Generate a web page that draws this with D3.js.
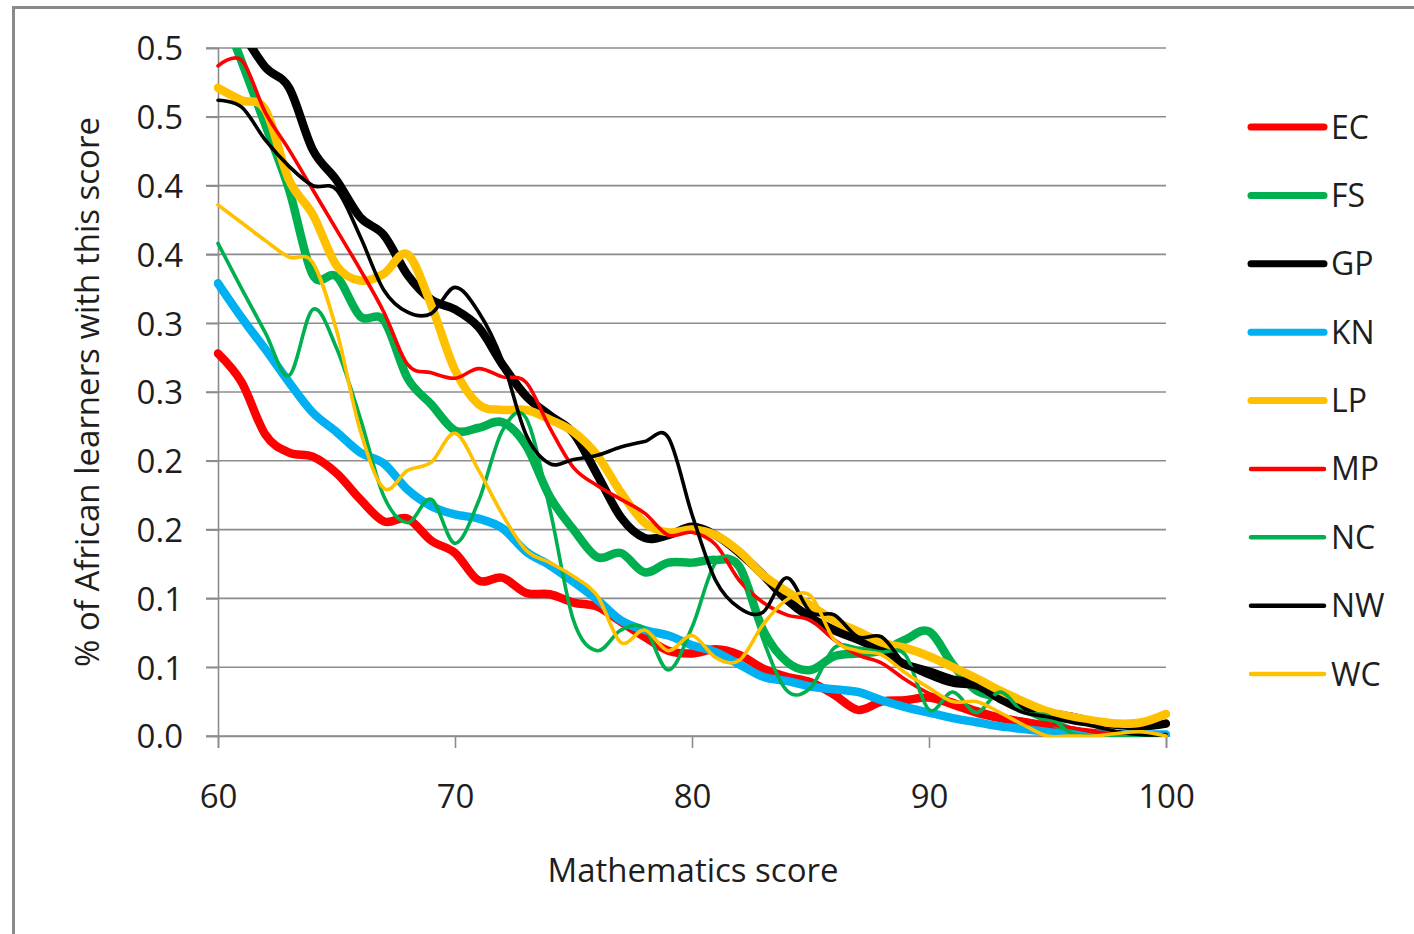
<!DOCTYPE html>
<html>
<head>
<meta charset="utf-8">
<script src="https://cdn.jsdelivr.net/npm/d3@7"></script>
<style>
  html, body { margin: 0; padding: 0; background: #ffffff; }
  svg { display: block; }
  text { font-family: "Open Sans", "Noto Sans", sans-serif; fill: #1e1e1e; }
</style>
</head>
<body>
<svg id="chart" width="1414" height="934"></svg>
<script>
// Mathematics score (x categories)
const scores = [60, 61, 62, 63, 64, 65, 66, 67, 68, 69, 70, 71, 72, 73, 74, 75, 76, 77, 78, 79, 80,
                81, 82, 83, 84, 85, 86, 87, 88, 89, 90, 91, 92, 93, 94, 95, 96, 97, 98, 99, 100];

// Share of African learners with each score, by province
const EC = [0.278, 0.257, 0.219, 0.206, 0.203, 0.191, 0.172, 0.156, 0.158, 0.142, 0.133, 0.113, 0.115, 0.104,
            0.103, 0.097, 0.094, 0.083, 0.072, 0.062, 0.060, 0.063, 0.059, 0.049, 0.043, 0.039, 0.030, 0.019,
            0.025, 0.026, 0.028, 0.023, 0.017, 0.013, 0.010, 0.007, 0.004, 0.002, 0.001, 0.000, 0.000];
const FS = [0.535, 0.490, 0.444, 0.397, 0.335, 0.334, 0.305, 0.302, 0.260, 0.241, 0.222, 0.224, 0.228, 0.211,
            0.174, 0.150, 0.130, 0.133, 0.119, 0.126, 0.126, 0.128, 0.123, 0.077, 0.054, 0.048, 0.058, 0.060,
            0.062, 0.070, 0.076, 0.052, 0.033, 0.028, 0.020, 0.012, 0.004, 0.001, 0.000, 0.000, 0.000];
const GP = [0.540, 0.512, 0.486, 0.471, 0.426, 0.404, 0.377, 0.364, 0.335, 0.317, 0.310, 0.297, 0.270, 0.247,
            0.233, 0.220, 0.190, 0.159, 0.144, 0.146, 0.152, 0.146, 0.133, 0.117, 0.099, 0.086, 0.077, 0.070,
            0.062, 0.052, 0.047, 0.041, 0.038, 0.028, 0.021, 0.017, 0.014, 0.010, 0.008, 0.007, 0.009];
const KN = [0.329, 0.304, 0.281, 0.257, 0.235, 0.221, 0.206, 0.198, 0.179, 0.167, 0.161, 0.158, 0.151, 0.134,
            0.124, 0.112, 0.099, 0.084, 0.077, 0.073, 0.066, 0.061, 0.052, 0.043, 0.040, 0.036, 0.034, 0.032,
            0.026, 0.021, 0.017, 0.013, 0.010, 0.007, 0.005, 0.003, 0.001, 0.001, 0.001, 0.001, 0.001];
const LP = [0.471, 0.462, 0.455, 0.404, 0.379, 0.342, 0.331, 0.336, 0.350, 0.313, 0.266, 0.241, 0.237, 0.237,
            0.230, 0.221, 0.204, 0.177, 0.155, 0.148, 0.150, 0.146, 0.134, 0.117, 0.105, 0.095, 0.084, 0.076,
            0.068, 0.064, 0.058, 0.050, 0.042, 0.033, 0.025, 0.018, 0.014, 0.011, 0.009, 0.010, 0.016];
const MP = [0.487, 0.491, 0.453, 0.426, 0.397, 0.368, 0.339, 0.308, 0.270, 0.264, 0.260, 0.267, 0.261, 0.257,
            0.224, 0.195, 0.182, 0.172, 0.162, 0.146, 0.148, 0.139, 0.113, 0.097, 0.088, 0.084, 0.070, 0.059,
            0.053, 0.041, 0.031, 0.026, 0.020, 0.015, 0.012, 0.009, 0.006, 0.003, 0.001, 0.000, 0.000];
const NC = [0.358, 0.325, 0.293, 0.262, 0.310, 0.282, 0.231, 0.174, 0.155, 0.172, 0.140, 0.171, 0.222, 0.231,
            0.165, 0.084, 0.062, 0.077, 0.078, 0.048, 0.079, 0.126, 0.123, 0.070, 0.033, 0.035, 0.064, 0.064,
            0.061, 0.059, 0.019, 0.032, 0.017, 0.032, 0.017, 0.015, 0.002, 0.000, 0.000, 0.000, 0.000];
const NW = [0.462, 0.457, 0.433, 0.414, 0.400, 0.397, 0.363, 0.324, 0.308, 0.307, 0.326, 0.308, 0.273, 0.219,
            0.198, 0.201, 0.204, 0.210, 0.214, 0.217, 0.161, 0.113, 0.093, 0.090, 0.115, 0.090, 0.088, 0.072,
            0.072, 0.052, 0.043, 0.037, 0.035, 0.025, 0.017, 0.014, 0.010, 0.007, 0.003, 0.001, 0.001];
const WC = [0.386, 0.373, 0.360, 0.348, 0.344, 0.295, 0.222, 0.180, 0.193, 0.199, 0.220, 0.193, 0.161, 0.135,
            0.126, 0.116, 0.102, 0.068, 0.077, 0.062, 0.073, 0.057, 0.055, 0.081, 0.099, 0.102, 0.070, 0.062,
            0.059, 0.046, 0.035, 0.025, 0.025, 0.017, 0.008, 0.000, 0.000, 0.000, 0.002, 0.003, 0.000];

const seriesNames = ["EC", "FS", "GP", "KN", "LP", "MP", "NC", "NW", "WC"];
const seriesValues = [EC, FS, GP, KN, LP, MP, NC, NW, WC];

// Axis ticks and their printed labels (one decimal place)
const yTickValues = [0, 0.05, 0.1, 0.15, 0.2, 0.25, 0.3, 0.35, 0.4, 0.45, 0.5];
const yTickLabels = ["0.0", "0.1", "0.1", "0.2", "0.2", "0.3", "0.3", "0.4", "0.4", "0.5", "0.5"];
const xTickValues = [60, 70, 80, 90, 100];
const xTickLabels = ["60", "70", "80", "90", "100"];

const xTitle = "Mathematics score";
const yTitle = "% of African learners with this score";

// Line styles per series
const styles = {
  EC: { color: "#ff0000", width: 8.5 },
  FS: { color: "#00b050", width: 8.5 },
  GP: { color: "#000000", width: 8.5 },
  KN: { color: "#00b0f0", width: 8.5 },
  LP: { color: "#ffc000", width: 8.5 },
  MP: { color: "#ff0000", width: 3.6 },
  NC: { color: "#00b050", width: 3.6 },
  NW: { color: "#000000", width: 3.6 },
  WC: { color: "#ffc000", width: 3.6 }
};

const svg = d3.select("#chart");
const plot = { left: 218, right: 1166, top: 48, bottom: 736 };

const x = d3.scaleLinear().domain([60, 100]).range([plot.left, plot.right]);
const y = d3.scaleLinear().domain([0, 0.5]).range([plot.bottom, plot.top]);

// Chart frame
svg.append("rect")
  .attr("x", 13.5).attr("y", 7.5)
  .attr("width", 1450).attr("height", 960)
  .attr("fill", "#ffffff")
  .attr("stroke", "#8a8a8a")
  .attr("stroke-width", 3);

// Horizontal gridlines
svg.append("g")
  .selectAll("line")
  .data(yTickValues)
  .join("line")
  .attr("x1", plot.left - 12).attr("x2", plot.right)
  .attr("y1", d => y(d)).attr("y2", d => y(d))
  .attr("stroke", "#8c8c8c")
  .attr("stroke-width", 1.6);

// Y axis
const yAxis = svg.append("g")
  .attr("transform", `translate(${plot.left},0)`)
  .call(d3.axisLeft(y)
    .tickValues(yTickValues)
    .tickFormat((d, i) => yTickLabels[i])
    .tickSize(12)
    .tickPadding(23));
yAxis.select(".domain").attr("stroke", "#8c8c8c").attr("stroke-width", 1.6);
yAxis.selectAll(".tick line").attr("stroke", "#8c8c8c").attr("stroke-width", 1.6);
yAxis.selectAll(".tick text")
  .attr("font-family", "Open Sans, sans-serif")
  .attr("font-size", 33)
  .attr("fill", "#1e1e1e")
  .attr("dy", "0.36em");

// X axis
const xAxis = svg.append("g")
  .attr("transform", `translate(0,${plot.bottom})`)
  .call(d3.axisBottom(x)
    .tickValues(xTickValues)
    .tickFormat((d, i) => xTickLabels[i])
    .tickSize(12)
    .tickPadding(0));
xAxis.select(".domain").attr("stroke", "#8c8c8c").attr("stroke-width", 1.6);
xAxis.selectAll(".tick line").attr("stroke", "#8c8c8c").attr("stroke-width", 1.6);
xAxis.selectAll(".tick text")
  .attr("font-family", "Open Sans, sans-serif")
  .attr("font-size", 33)
  .attr("fill", "#1e1e1e")
  .attr("y", 60)
  .attr("dy", "0.36em");

// Axis titles
svg.append("text")
  .attr("x", 693).attr("y", 870)
  .attr("text-anchor", "middle")
  .attr("dy", "0.36em")
  .attr("font-size", 33)
  .text(xTitle);

svg.append("text")
  .attr("transform", "translate(87,392) rotate(-90)")
  .attr("text-anchor", "middle")
  .attr("dy", "0.36em")
  .attr("font-size", 33)
  .text(yTitle);

// Series lines, clipped to the plot area
svg.append("clipPath").attr("id", "plot-clip")
  .append("rect")
  .attr("x", plot.left - 4).attr("y", plot.top)
  .attr("width", plot.right - plot.left + 8)
  .attr("height", plot.bottom - plot.top + 1);

const line = d3.line()
  .x((d, i) => x(scores[i]))
  .y(d => y(d))
  .curve(d3.curveCardinal.tension(0));

svg.append("g")
  .attr("clip-path", "url(#plot-clip)")
  .selectAll("path")
  .data(seriesNames.map((name, i) => ({ name, values: seriesValues[i] })))
  .join("path")
  .attr("d", d => line(d.values))
  .attr("fill", "none")
  .attr("stroke", d => styles[d.name].color)
  .attr("stroke-width", d => styles[d.name].width)
  .attr("stroke-linejoin", "round")
  .attr("stroke-linecap", "round");

// Legend
const legendY = d3.scalePoint().domain(seriesNames).range([127, 674]);
const legend = svg.append("g")
  .selectAll("g")
  .data(seriesNames)
  .join("g")
  .attr("transform", d => `translate(0,${legendY(d)})`);

legend.append("line")
  .attr("x1", 1251).attr("x2", 1324)
  .attr("y1", 0).attr("y2", 0)
  .attr("stroke", d => styles[d].color)
  .attr("stroke-width", d => styles[d].width > 5 ? 7 : 4.5)
  .attr("stroke-linecap", "round");

legend.append("text")
  .attr("x", 1331).attr("y", 0)
  .attr("dy", "0.36em")
  .attr("font-size", 32)
  .text(d => d);
</script>
</body>
</html>
